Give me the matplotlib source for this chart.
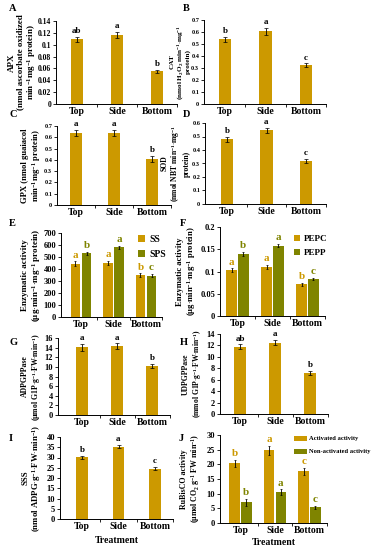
import matplotlib
matplotlib.use("Agg")
import matplotlib.pyplot as plt
import numpy as np

plt.rcParams['font.family'] = ['Liberation Serif', 'DejaVu Serif']
plt.rcParams['font.weight'] = 'bold'
plt.rcParams['mathtext.fontset'] = 'custom'
plt.rcParams['mathtext.rm'] = 'Liberation Serif:bold'
plt.rcParams['mathtext.it'] = 'Liberation Serif:bold'
plt.rcParams['mathtext.bf'] = 'Liberation Serif:bold'
plt.rcParams['mathtext.default'] = 'rm'

categories = ["Top", "Side", "Bottom"]

apx = [0.109, 0.117, 0.055]; apx_err = [0.004, 0.005, 0.003]; apx_let = ["ab", "a", "b"]
cat = [0.54, 0.605, 0.325]; cat_err = [0.02, 0.03, 0.015]; cat_let = ["b", "a", "c"]
gpx = [0.64, 0.64, 0.41]; gpx_err = [0.025, 0.025, 0.025]; gpx_let = ["a", "a", "b"]
sod = [0.48, 0.545, 0.32]; sod_err = [0.02, 0.02, 0.015]; sod_let = ["b", "a", "c"]
ss = [445, 450, 350]; ss_err = [18, 20, 15]; ss_let = ["a", "a", "b"]
sps = [530, 580, 345]; sps_err = [15, 15, 12]; sps_let = ["b", "a", "c"]
pepc = [0.103, 0.110, 0.071]; pepc_err = [0.004, 0.005, 0.003]; pepc_let = ["a", "a", "b"]
pepp = [0.139, 0.158, 0.083]; pepp_err = [0.005, 0.004, 0.003]; pepp_let = ["b", "a", "c"]
adp = [14.1, 14.3, 10.2]; adp_err = [0.7, 0.6, 0.5]; adp_let = ["a", "a", "b"]
udp = [11.8, 12.5, 7.2]; udp_err = [0.4, 0.5, 0.4]; udp_let = ["ab", "a", "b"]
sss = [30.2, 35.3, 24.5]; sss_err = [0.7, 0.8, 0.8]; sss_let = ["b", "a", "c"]
act = [20.3, 24.8, 17.6]; act_err = [1.2, 1.6, 1.1]; act_let = ["b", "a", "c"]
nonact = [7.0, 10.6, 5.3]; nonact_err = [1.1, 0.9, 0.6]; nonact_let = ["b", "a", "c"]

GOLD = '#CC9900'
OLIVE = '#7F8400'

W, H = 381, 550
fig = plt.figure(figsize=(W / 100, H / 100), dpi=100)


def make_ax(left, x0, sp, top, bottom):
    right = x0 + 2.5 * sp
    ax = fig.add_axes([left / W, 1 - bottom / H, (right - left) / W, (bottom - top) / H])
    ax.set_xlim(-(x0 - left) / sp, 2.5)
    for s in ['top', 'right']:
        ax.spines[s].set_visible(False)
    for s in ['left', 'bottom']:
        ax.spines[s].set_linewidth(0.7)
    ax.set_xticks(range(3))
    ax.set_xticklabels(categories, fontsize=7, fontweight='bold')
    ax.tick_params(axis='x', which='major', length=0, pad=2)
    ax.set_xticks([0.5, 1.5, 2.5], minor=True)
    ax.tick_params(axis='x', which='minor', length=2.5, width=0.6, direction='out')
    ax.tick_params(axis='y', length=2, width=0.6, pad=1.5)
    return ax, left, right


def yfmt(ax, ymax, step, fs):
    ticks = np.arange(0, ymax + step / 2, step)
    ax.set_ylim(0, ymax)
    ax.set_yticks(ticks)
    ax.set_yticklabels(['%g' % round(t, 4) for t in ticks], fontsize=fs, fontweight='bold')


def single(ax, vals, errs, lets, ymax, fs_let=6.5):
    x = np.arange(3)
    ax.bar(x, vals, width=0.32, color=GOLD, zorder=2)
    ax.errorbar(x, vals, yerr=errs, fmt='none', ecolor='black', elinewidth=0.6, capsize=1.2, capthick=0.5, zorder=3)
    for xi, v, e, l in zip(x, vals, errs, lets):
        ax.text(xi, v + e + ymax * 0.02, l, ha='center', va='bottom', fontsize=fs_let, fontweight='bold')


def grouped(ax, v1, e1, l1, v2, e2, l2, ymax, fs_let=8):
    x = np.arange(3)
    off = 0.17
    ax.bar(x - off, v1, width=0.3, color=GOLD, zorder=2)
    ax.bar(x + off, v2, width=0.3, color=OLIVE, zorder=2)
    ax.errorbar(x - off, v1, yerr=e1, fmt='none', ecolor='black', elinewidth=0.6, capsize=1.0, capthick=0.5, zorder=3)
    ax.errorbar(x + off, v2, yerr=e2, fmt='none', ecolor='black', elinewidth=0.6, capsize=1.0, capthick=0.5, zorder=3)
    for xi, v, e, l in zip(x - off, v1, e1, l1):
        ax.text(xi, v + e + ymax * 0.02, l, ha='center', va='bottom', fontsize=fs_let, fontweight='bold', color=GOLD)
    for xi, v, e, l in zip(x + off, v2, e2, l2):
        ax.text(xi, v + e + ymax * 0.02, l, ha='center', va='bottom', fontsize=fs_let, fontweight='bold', color=OLIVE)


def ylab(ax, text, xr, left, right, fs):
    ax.set_ylabel(text, fontsize=fs, fontweight='bold', linespacing=1.1)
    ax.yaxis.set_label_coords((xr - left) / (right - left), 0.5)


def ylab_lines(ax, lines, xrights, left, right, fs):
    for t, xr in zip(lines, xrights):
        ax.text((xr - left) / (right - left), 0.5, t, rotation=90, ha='right', va='center',
                transform=ax.transAxes, fontsize=fs, fontweight='bold')


def panel_letter(x, y, s):
    fig.text(x / W, 1 - y / H, s, fontsize=7.5, fontweight='bold', va='top', ha='left')


m1 = r'min$^{-1}$mg$^{-1}$'

# A
ax, l, r = make_ax(56, 77, 40, 21, 104)
single(ax, apx, apx_err, apx_let, 0.14)
yfmt(ax, 0.14, 0.02, 5.5)
ylab(ax, 'APX\n(nmol ascorbate oxidized\n' + m1 + ' protein)', 38, l, r, 6.5)
panel_letter(9, 4, 'A')

# B
ax, l, r = make_ax(204, 225, 40.5, 20, 104)
single(ax, cat, cat_err, cat_let, 0.7)
yfmt(ax, 0.7, 0.1, 4.5)
ylab(ax, 'CAT\n(nmol H$_2$O$_2$ min$^{-1}$$\\cdot$mg$^{-1}$\nprotein)', 191, l, r, 5.2)
panel_letter(183, 4, 'B')

# C
ax, l, r = make_ax(57, 76, 38, 126, 205)
single(ax, gpx, gpx_err, gpx_let, 0.7)
yfmt(ax, 0.7, 0.1, 4.5)
ylab(ax, 'GPX (nmol guaiacol\n' + m1 + ' protein)', 43, l, r, 6.2)
panel_letter(9, 110, 'C')

# D
ax, l, r = make_ax(205, 227, 39.5, 123, 204)
single(ax, sod, sod_err, sod_let, 0.6)
yfmt(ax, 0.6, 0.1, 4.5)
ylab(ax, 'SOD\n(nmol NBT min$^{-1}$$\\cdot$mg$^{-1}$\nprotein)', 191, l, r, 5.5)
panel_letter(183, 110, 'D')

# E
ax, l, r = make_ax(61, 81, 32.5, 233, 317)
grouped(ax, ss, ss_err, ss_let, sps, sps_err, sps_let, 700)
yfmt(ax, 700, 100, 6)
ylab(ax, 'Enzymatic activity\n($\\mu$g$\\cdot$min$^{-1}$$\\cdot$mg$^{-1}$ protein)', 43, l, r, 6.5)
ax.legend(['SS', 'SPS'], loc='upper right', bbox_to_anchor=(1.12, 1.08), frameon=False,
          handlelength=0.7, handleheight=0.7, handletextpad=0.4, labelspacing=0.6, prop={'weight': 'bold', 'size': 7})
panel_letter(9, 219, 'E')

# F
ax, l, r = make_ax(220, 237.5, 35, 227, 316)
grouped(ax, pepc, pepc_err, pepc_let, pepp, pepp_err, pepp_let, 0.2)
yfmt(ax, 0.2, 0.05, 6)
ylab(ax, 'Enzymatic activity\n($\\mu$g$\\cdot$min$^{-1}$$\\cdot$mg$^{-1}$ protein)', 198, l, r, 6.2)
ax.legend(['PEPC', 'PEPP'], loc='upper right', bbox_to_anchor=(1.1, 1.0), frameon=False,
          handlelength=0.7, handleheight=0.7, handletextpad=0.4, labelspacing=0.6, prop={'weight': 'bold', 'size': 6.5})
panel_letter(180, 219, 'F')

# G
ax, l, r = make_ax(58, 82, 35, 338, 415)
single(ax, adp, adp_err, adp_let, 16)
yfmt(ax, 16, 2, 6)
ylab(ax, 'ADPGPPase\n($\\mu$mol G1P$\\cdot$g$^{-1}$$\\cdot$FW$\\cdot$min$^{-1}$)', 43, l, r, 5.6)
panel_letter(9, 338, 'G')

# H
ax, l, r = make_ax(220, 240, 35, 334, 414)
single(ax, udp, udp_err, udp_let, 14)
yfmt(ax, 14, 2, 6)
ylab_lines(ax, ['UDPGPPase', '(mmol G1P$\\cdot$g$^{-1}$$\\cdot$FW$\\cdot$min$^{-1}$)'], [190, 204], l, r, 5.5)
panel_letter(180, 338, 'H')

# I
ax, l, r = make_ax(60, 82, 36.5, 437, 519)
single(ax, sss, sss_err, sss_let, 40)
yfmt(ax, 40, 5, 6)
ylab(ax, 'SSS\n(nmol ADPG$\\cdot$g$^{-1}$$\\cdot$FW$\\cdot$min$^{-1}$)', 43, l, r, 6.3)
ax.set_xlabel('Treatment', fontsize=7, fontweight='bold', labelpad=4)
panel_letter(9, 434, 'I')

# J
ax, l, r = make_ax(220, 240.5, 34.5, 435, 523)
grouped(ax, act, act_err, act_let, nonact, nonact_err, nonact_let, 30)
yfmt(ax, 30, 5, 6)
ylab_lines(ax, ['RuBisCO activity', '($\\mu$mol CO$_2$ g$^{-1}$ FW min$^{-1}$)'], [188, 202], l, r, 5.7)
ax.set_xlabel('Treatment', fontsize=7, fontweight='bold', labelpad=2)
ax.legend(['Activated activity', 'Non-activated activity'], loc='upper left', bbox_to_anchor=(0.64, 1.06), frameon=False,
          handlelength=1.9, handleheight=0.8, handletextpad=0.3, labelspacing=1.1, prop={'weight': 'bold', 'size': 4.7})
panel_letter(179, 434, 'J')

fig.savefig('out.png', dpi=100)
